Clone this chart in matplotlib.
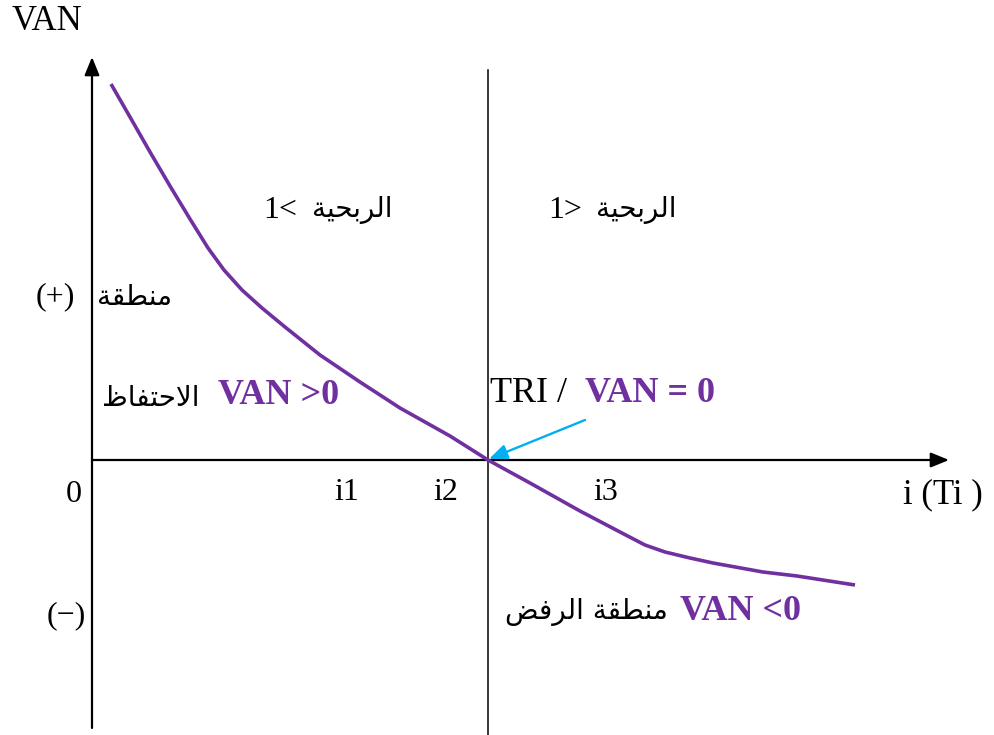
import matplotlib
matplotlib.use("Agg")
import matplotlib.pyplot as plt

# ---------------- data (origin = axes crossing) -------------
rate = [19, 38, 58, 78, 98, 116, 132, 150, 170, 193, 228, 268, 308, 358, 396,
        438, 488, 528, 553, 573, 598, 621, 671, 705, 763]
van = [376, 343, 308, 274, 241, 212, 190, 170, 152, 133, 105, 78, 52, 24, 0,
       -23, -51, -72, -85, -92, -98, -103, -112, -116, -125]
tri_rate = 396
tick_labels = ["i1", "i2", "i3"]
tick_pos = [255, 354, 514]

PURPLE = "#7030A0"
CYAN = "#00B0F0"
LATIN = ["Liberation Serif", "DejaVu Serif"]
ARABIC = ["DejaVu Sans", "Liberation Serif"]

# ---------------- minimal Arabic shaping (presentation forms) ----------------------
FORMS = {  # isolated, final, initial, medial
    "ا": ("\uFE8D", "\uFE8E", None, None),
    "ر": ("\uFEAD", "\uFEAE", None, None),
    "ة": ("\uFE93", "\uFE94", None, None),
    "ل": ("\uFEDD", "\uFEDE", "\uFEDF", "\uFEE0"),
    "ب": ("\uFE8F", "\uFE90", "\uFE91", "\uFE92"),
    "ح": ("\uFEA1", "\uFEA2", "\uFEA3", "\uFEA4"),
    "ي": ("\uFEF1", "\uFEF2", "\uFEF3", "\uFEF4"),
    "م": ("\uFEE1", "\uFEE2", "\uFEE3", "\uFEE4"),
    "ن": ("\uFEE5", "\uFEE6", "\uFEE7", "\uFEE8"),
    "ط": ("\uFEC1", "\uFEC2", "\uFEC3", "\uFEC4"),
    "ق": ("\uFED5", "\uFED6", "\uFED7", "\uFED8"),
    "ت": ("\uFE95", "\uFE96", "\uFE97", "\uFE98"),
    "ف": ("\uFED1", "\uFED2", "\uFED3", "\uFED4"),
    "ظ": ("\uFEC5", "\uFEC6", "\uFEC7", "\uFEC8"),
    "ض": ("\uFEBD", "\uFEBE", "\uFEBF", "\uFEC0"),
}


def dual(c):
    return c in FORMS and FORMS[c][2] is not None


def shape(word):
    out = []
    i = 0
    n = len(word)
    while i < n:
        c = word[i]
        if c not in FORMS:
            out.append(c)
            i += 1
            continue
        prev = word[i - 1] if i > 0 else ""
        jp = dual(prev)
        if c == "ل" and i + 1 < n and word[i + 1] == "ا":
            out.append("\uFEFC" if jp else "\uFEFB")
            i += 2
            continue
        nxt = word[i + 1] if i + 1 < n else ""
        jn = dual(c) and nxt in FORMS
        iso, fin, ini, med = FORMS[c]
        if jp and jn:
            out.append(med)
        elif jp:
            out.append(fin)
        elif jn:
            out.append(ini)
        else:
            out.append(iso)
        i += 1
    return "".join(out)


def ar(text):
    return shape(text)[::-1]


# ---------------- figure ----------------------------------------------------------
fig = plt.figure(figsize=(9.95, 7.35), dpi=100)
ax = fig.add_axes([0, 0, 1, 1])
ax.set_xlim(-92, 903)
ax.set_ylim(-275, 460)
ax.axis("off")

# axes with arrows
ax.annotate("", xy=(0, 403), xytext=(0, -268),
            arrowprops=dict(arrowstyle="-|>,head_length=1.1,head_width=0.45",
                            lw=1.6, color="black", shrinkA=0, shrinkB=0))
ax.annotate("", xy=(857, 0), xytext=(0, 0),
            arrowprops=dict(arrowstyle="-|>,head_length=1.1,head_width=0.45",
                            lw=1.6, color="black", shrinkA=0, shrinkB=0))
# TRI vertical line
ax.plot([tri_rate, tri_rate], [-275, 390], color="black", lw=1.1)

# VAN curve
ax.plot(rate, van, color=PURPLE, lw=2.6, solid_capstyle="butt",
        solid_joinstyle="round", zorder=3)

# cyan arrow pointing to TRI
ax.annotate("", xy=(tri_rate + 1, 1), xytext=(493, 40),
            arrowprops=dict(arrowstyle="-|>,head_length=1.1,head_width=0.45",
                            lw=1.7, color=CYAN, shrinkA=0, shrinkB=0), zorder=4)

# texts
ax.text(-45, 438, "VAN", fontsize=25, family=LATIN, ha="center", va="center")
ax.text(-18, -35, "0", fontsize=23, family=LATIN, ha="center", va="center")
for lab, x in zip(tick_labels, tick_pos):
    ax.text(x, -33, lab, fontsize=23, family=LATIN, ha="center", va="center")
ax.text(811, -35, "i (Ti )", fontsize=25, family=LATIN, ha="left", va="center")

ax.text(-17, 163, "(+)", fontsize=23, family=LATIN, ha="right", va="center")
ax.text(-6, -156, "(\u2212)", fontsize=23, family=LATIN, ha="right", va="center")

# profitability labels
ax.text(171, 250, "1<", fontsize=23, family=LATIN, ha="left", va="center")
ax.text(300, 250, ar("الربحية"), fontsize=20, family=ARABIC, ha="right", va="center")
ax.text(456, 250, "1>", fontsize=23, family=LATIN, ha="left", va="center")
ax.text(585, 250, ar("الربحية"), fontsize=20, family=ARABIC, ha="right", va="center")

# acceptance zone
ax.text(80, 163, ar("منطقة"), fontsize=20, family=ARABIC, ha="right", va="center")
ax.text(108, 62, ar("الاحتفاظ"), fontsize=20, family=ARABIC, ha="right", va="center")
ax.text(126, 65, "VAN >0", fontsize=26, family=LATIN, fontweight="bold",
        color=PURPLE, ha="left", va="center")

# TRI label
ax.text(398, 67, "TRI / ", fontsize=26, family=LATIN, ha="left", va="center")
ax.text(493, 67, "VAN = 0", fontsize=26, family=LATIN, fontweight="bold",
        color=PURPLE, ha="left", va="center")

# rejection zone
ax.text(576, -152, ar("منطقة الرفض"), fontsize=20, family=ARABIC,
        ha="right", va="center")
ax.text(588, -152, "VAN <0", fontsize=26, family=LATIN, fontweight="bold",
        color=PURPLE, ha="left", va="center")

fig.savefig("out.png", dpi=100)
